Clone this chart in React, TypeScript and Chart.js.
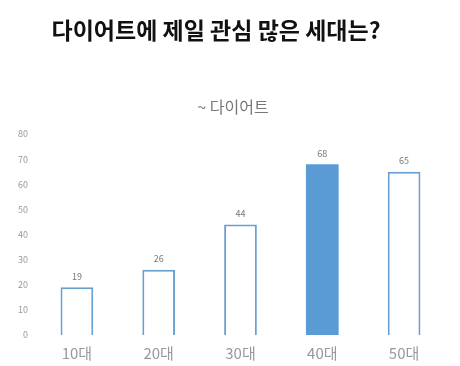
import React, { useEffect, useRef } from "react";
import { Chart, registerables } from "chart.js";

Chart.register(...registerables);

const categories = ["10대", "20대", "30대", "40대", "50대"];
const values = [19, 26, 44, 68, 65];
const highlighted = [false, false, false, true, false];
const yTicks = [0, 10, 20, 30, 40, 50, 60, 70, 80];
const titleText = "다이어트에 제일 관심 많은 세대는?";
const subtitleText = "~ 다이어트";

const FONT = "'Noto Sans CJK KR', 'Noto Sans', sans-serif";
const BLUE = "#5b9bd5";

export default function App() {
  const ref = useRef<HTMLCanvasElement | null>(null);
  useEffect(() => {
    if (!ref.current) return;
    const textPlugin = {
      id: "texts",
      afterDraw(chart: any) {
        const ctx = chart.ctx;
        ctx.save();
        ctx.textBaseline = "middle";
        ctx.textAlign = "center";
        ctx.fillStyle = "#111";
        ctx.font = `bold 23px ${FONT}`;
        ctx.fillText(titleText, 216, 30);
        ctx.fillStyle = "#777";
        ctx.font = `16px ${FONT}`;
        ctx.fillText(subtitleText, 233, 107);
        const meta = chart.getDatasetMeta(0);
        ctx.font = `9px ${FONT}`;
        ctx.fillStyle = "#777";
        meta.data.forEach((bar: any, i: number) => {
          ctx.fillText(String(values[i]), bar.x, bar.y - 11);
        });
        ctx.restore();
      },
    };
    const chart = new Chart(ref.current, {
      type: "bar",
      data: {
        labels: categories,
        datasets: [
          {
            data: values,
            backgroundColor: highlighted.map((h) => (h ? BLUE : "#ffffff")),
            borderColor: "#6a9fd2",
            borderWidth: highlighted.map((h) => (h ? 0 : 2)),
            barPercentage: 0.4,
            categoryPercentage: 1,
          },
        ],
      },
      options: {
        responsive: false,
        animation: false,
        layout: { padding: { top: 134, left: 18, right: 15, bottom: 3 } },
        plugins: { legend: { display: false }, tooltip: { enabled: false } },
        scales: {
          x: {
            grid: { display: false },
            border: { display: false },
            ticks: { color: "#999", font: { family: FONT, size: 15 }, padding: 1 },
          },
          y: {
            min: 0,
            max: 80,
            afterBuildTicks: (axis: any) => {
              axis.ticks = yTicks.map((v) => ({ value: v }));
            },
            grid: { display: false },
            border: { display: false },
            ticks: { color: "#999", font: { family: FONT, size: 9 }, padding: 0 },
          },
        },
      },
      plugins: [textPlugin],
    });
    return () => chart.destroy();
  }, []);
  return (
    <div style={{ position: "fixed", left: 0, top: 0, width: 460, height: 366, background: "#fff" }}>
      <canvas ref={ref} width={460} height={366} />
    </div>
  );
}
